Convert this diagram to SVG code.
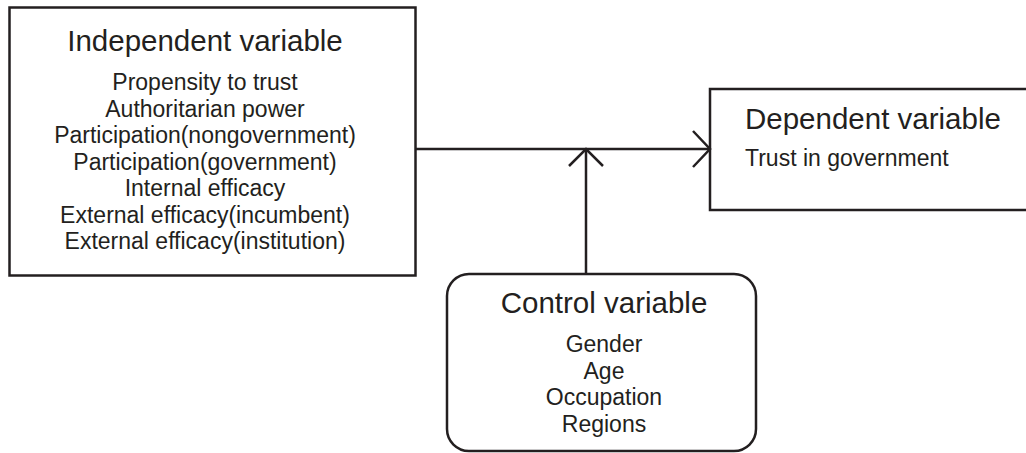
<svg xmlns="http://www.w3.org/2000/svg" width="1026" height="453" viewBox="0 0 1026 453">
<style>
.box{fill:#fff;stroke:#231f20;stroke-width:2.5}
.conn{fill:none;stroke:#231f20;stroke-width:2.5}
text{font-family:"Liberation Sans",Arial,sans-serif;fill:#231f20}
.t{font-size:29.5px}
.b{font-size:23px}
.c{text-anchor:middle}
</style>
<rect width="1026" height="453" fill="#fff"/>
<g id="independent">
<rect class="box" x="9.5" y="7.5" width="406" height="268"/>
<text class="t c" x="205" y="51">Independent variable</text>
<text class="b c" x="205" y="90">Propensity to trust</text>
<text class="b c" x="205" y="116.5">Authoritarian power</text>
<text class="b c" x="205" y="143">Participation(nongovernment)</text>
<text class="b c" x="205" y="169.5">Participation(government)</text>
<text class="b c" x="205" y="196">Internal efficacy</text>
<text class="b c" x="205" y="222.5">External efficacy(incumbent)</text>
<text class="b c" x="205" y="249">External efficacy(institution)</text>
</g>
<g id="dependent">
<rect class="box" x="710" y="89" width="330" height="121"/>
<text class="t" x="745" y="129">Dependent variable</text>
<text class="b" x="745" y="166">Trust in government</text>
</g>
<g id="control">
<rect class="box" x="447" y="274" width="309" height="177" rx="22" ry="22"/>
<text class="t c" x="604" y="313">Control variable</text>
<text class="b c" x="604" y="352">Gender</text>
<text class="b c" x="604" y="378.5">Age</text>
<text class="b c" x="604" y="405">Occupation</text>
<text class="b c" x="604" y="431.5">Regions</text>
</g>
<g id="connectors">
<path class="conn" d="M416 149H709"/>
<path class="conn" d="M693 131L710 149L693 167"/>
<path class="conn" d="M586 274V150"/>
<path class="conn" d="M569 166L586 149L603 166"/>
</g>
</svg>
